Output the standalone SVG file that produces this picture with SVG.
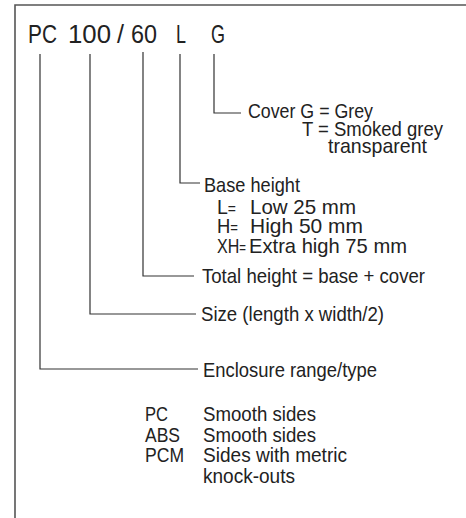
<svg xmlns="http://www.w3.org/2000/svg" width="466" height="518" viewBox="0 0 466 518">
<style>
text{font-family:"Liberation Sans",Arial,sans-serif;fill:#222;font-size:21px}
.title{font-size:26px}
.eq{font-size:15px}
.c{fill:none;stroke:#333;stroke-width:1.2}
.frame{fill:none;stroke:#555;stroke-width:1.6}
</style>
<rect width="466" height="518" fill="#fff"/>
<path class="frame" d="M15 518V5H466"/>
<g id="code">
<text class="title" x="28" y="43" textLength="29" lengthAdjust="spacingAndGlyphs">PC</text>
<text class="title" x="68" y="43" textLength="43" lengthAdjust="spacingAndGlyphs">100</text>
<text class="title" x="117" y="43" textLength="7" lengthAdjust="spacingAndGlyphs">/</text>
<text class="title" x="131" y="43" textLength="26" lengthAdjust="spacingAndGlyphs">60</text>
<text class="title" x="176" y="43" textLength="10" lengthAdjust="spacingAndGlyphs">L</text>
<text class="title" x="211" y="43" textLength="14" lengthAdjust="spacingAndGlyphs">G</text>
</g>
<g id="connectors">
<path class="c" d="M214 54V113H241"/>
<path class="c" d="M180 54V183H200"/>
<path class="c" d="M143 52V276H194"/>
<path class="c" d="M90 54V314H196"/>
<path class="c" d="M40 54V369H198"/>
</g>
<g id="cover">
<text x="248" y="118" textLength="125" lengthAdjust="spacingAndGlyphs">Cover G = Grey</text>
<text x="302" y="136" textLength="141" lengthAdjust="spacingAndGlyphs">T = Smoked grey</text>
<text x="328" y="153" textLength="99" lengthAdjust="spacingAndGlyphs">transparent</text>
</g>
<g id="base">
<text x="204" y="192" textLength="96" lengthAdjust="spacingAndGlyphs">Base height</text>
<text x="217" y="214" textLength="19" lengthAdjust="spacingAndGlyphs">L<tspan class="eq">=</tspan></text>
<text x="250" y="214" textLength="106" lengthAdjust="spacingAndGlyphs">Low 25 mm</text>
<text x="217" y="233" textLength="21" lengthAdjust="spacingAndGlyphs">H<tspan class="eq">=</tspan></text>
<text x="250" y="233" textLength="113" lengthAdjust="spacingAndGlyphs">High 50 mm</text>
<text x="217" y="253" textLength="29" lengthAdjust="spacingAndGlyphs">XH<tspan class="eq">=</tspan></text>
<text x="249" y="253" textLength="158" lengthAdjust="spacingAndGlyphs">Extra high 75 mm</text>
</g>
<g id="total"><text x="202" y="283" textLength="223" lengthAdjust="spacingAndGlyphs">Total height = base + cover</text></g>
<g id="size"><text x="201" y="321" textLength="183" lengthAdjust="spacingAndGlyphs">Size (length x width/2)</text></g>
<g id="range">
<text x="203" y="377" textLength="174" lengthAdjust="spacingAndGlyphs">Enclosure range/type</text>
<text x="145" y="421" textLength="23" lengthAdjust="spacingAndGlyphs">PC</text>
<text x="203" y="421" textLength="113" lengthAdjust="spacingAndGlyphs">Smooth sides</text>
<text x="145" y="442" textLength="35" lengthAdjust="spacingAndGlyphs">ABS</text>
<text x="203" y="442" textLength="113" lengthAdjust="spacingAndGlyphs">Smooth sides</text>
<text x="145" y="462" textLength="39" lengthAdjust="spacingAndGlyphs">PCM</text>
<text x="203" y="462" textLength="144" lengthAdjust="spacingAndGlyphs">Sides with metric</text>
<text x="203" y="483" textLength="92" lengthAdjust="spacingAndGlyphs">knock-outs</text>
</g>
</svg>
